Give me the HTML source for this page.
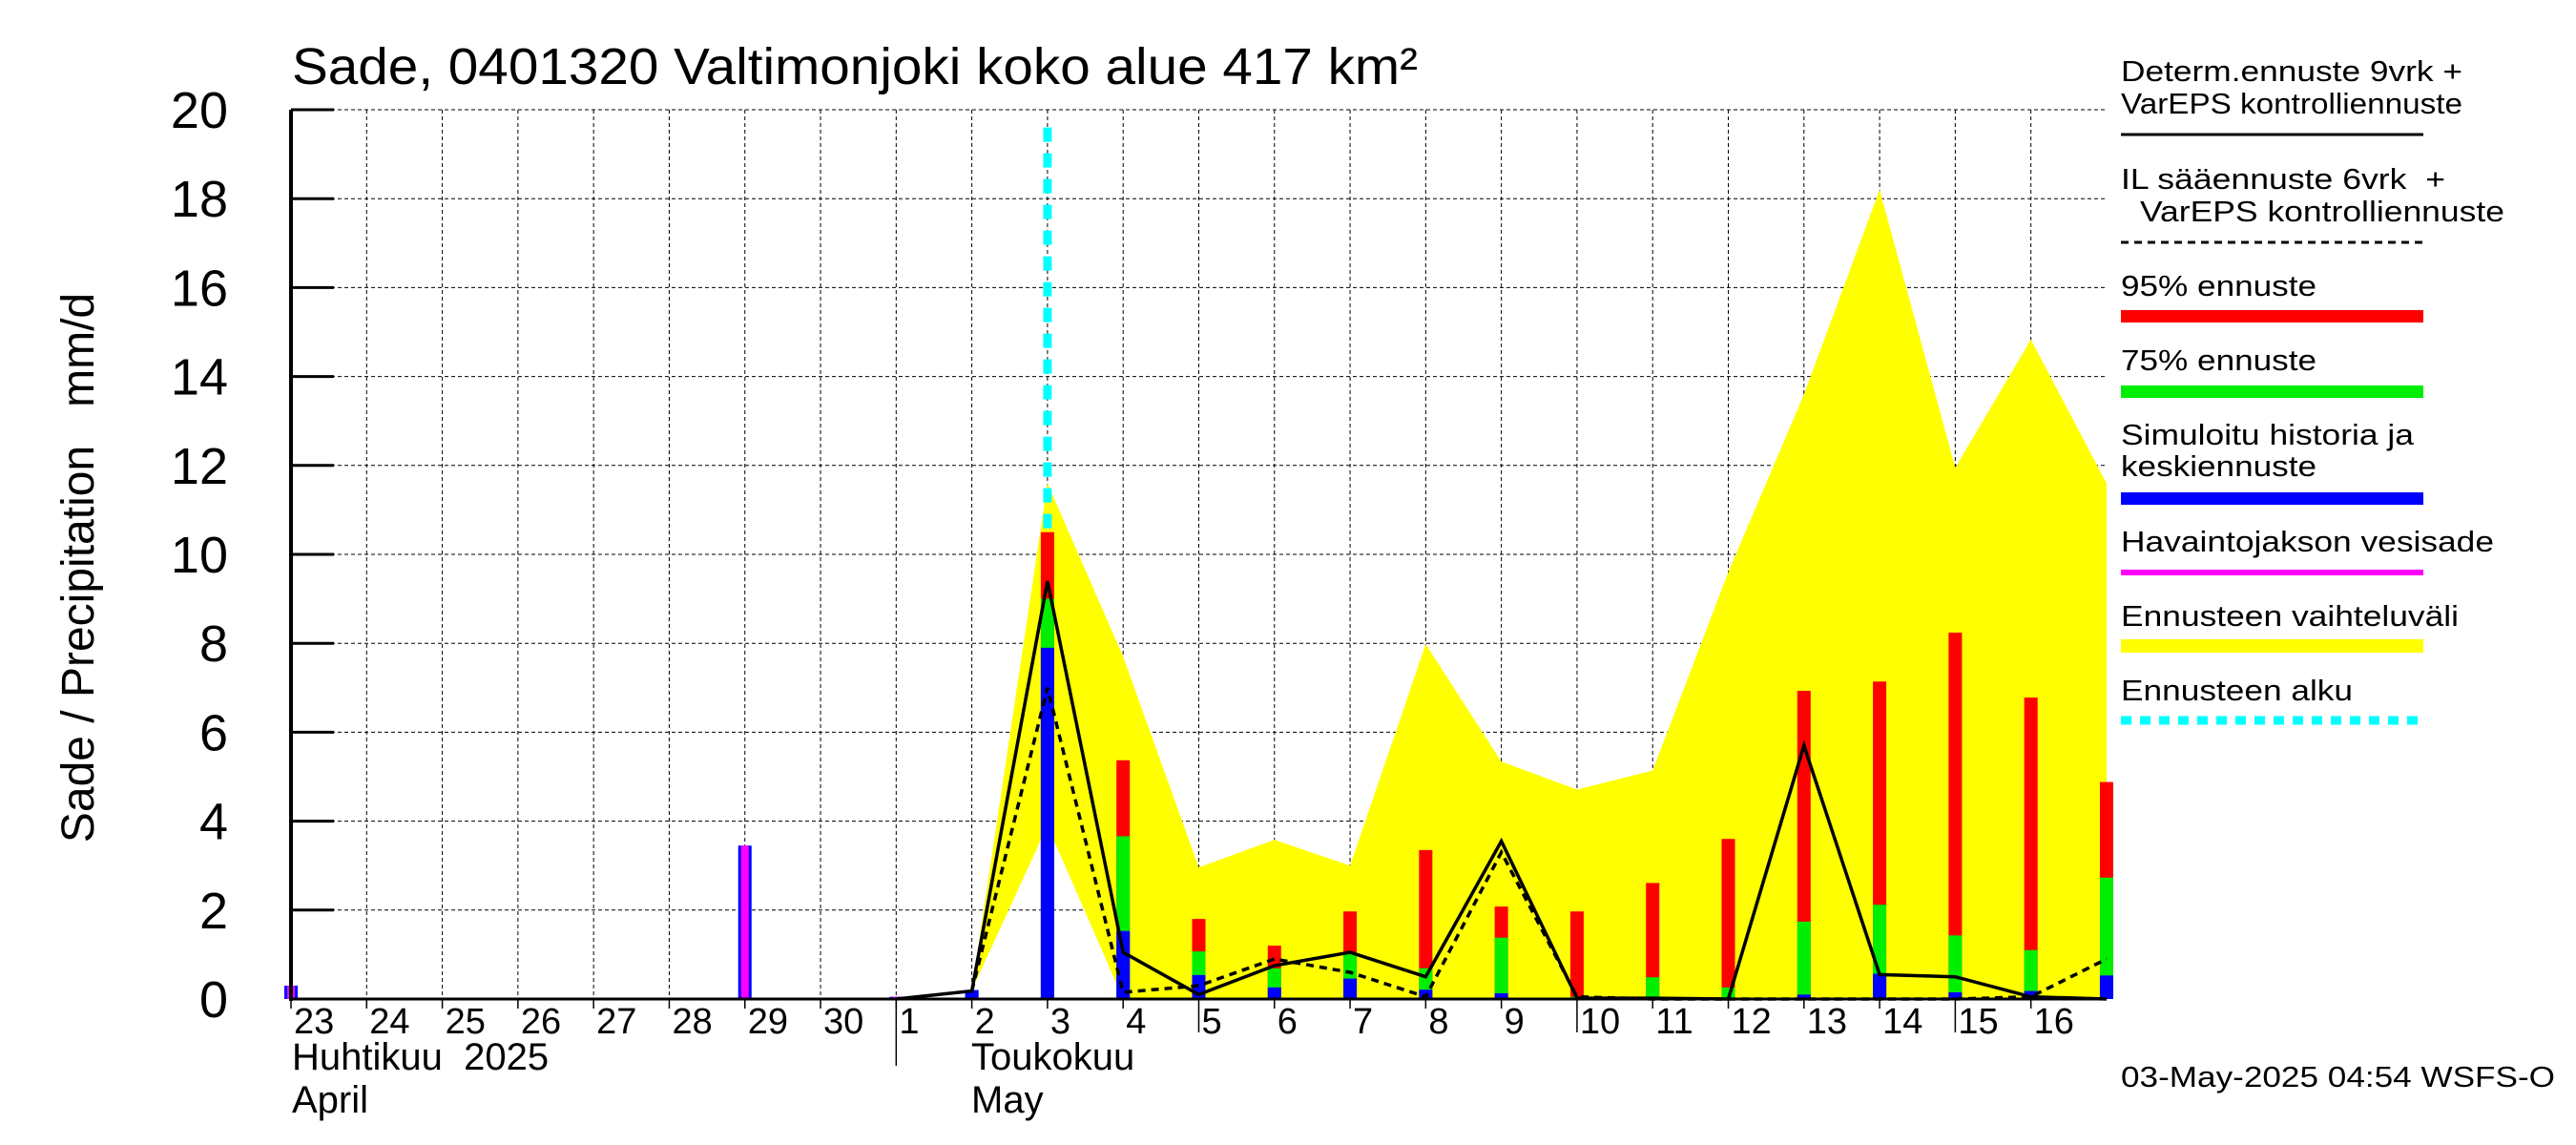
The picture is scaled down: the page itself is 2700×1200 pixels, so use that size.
<!DOCTYPE html>
<html><head><meta charset="utf-8">
<style>
html,body{margin:0;padding:0;background:#fff;}
svg{display:block;font-family:"Liberation Sans",sans-serif;}
</style></head>
<body>
<svg id="chart" width="2700" height="1200" viewBox="0 0 2700 1200" xmlns="http://www.w3.org/2000/svg">
<rect width="2700" height="1200" fill="#fff"/>
<text x="306" y="88" font-size="54" textLength="1180" lengthAdjust="spacingAndGlyphs">Sade, 0401320 Valtimonjoki koko alue 417 km²</text>
<text transform="translate(98,595) rotate(-90)" text-anchor="middle" font-size="48" style="white-space:pre">Sade / Precipitation   mm/d</text>
<g id="grid"></g>
<g id="band"></g>
<g id="cyan"></g>
<g id="bars"></g>
<g id="lines"></g>
<g id="axes"></g>
<g id="legend">
<text x="2223" y="85" font-size="31" textLength="358" lengthAdjust="spacingAndGlyphs">Determ.ennuste 9vrk +</text>
<text x="2223" y="119" font-size="31" textLength="358" lengthAdjust="spacingAndGlyphs">VarEPS kontrolliennuste</text>
<line x1="2223" y1="141" x2="2540" y2="141" stroke="#000" stroke-width="3"/>
<text x="2223" y="198" font-size="31" textLength="340" lengthAdjust="spacingAndGlyphs" style="white-space:pre">IL sääennuste 6vrk  +</text>
<text x="2243" y="232" font-size="31" textLength="382" lengthAdjust="spacingAndGlyphs">VarEPS kontrolliennuste</text>
<line x1="2223" y1="254" x2="2540" y2="254" stroke="#000" stroke-width="3" stroke-dasharray="8,6"/>
<text x="2223" y="310" font-size="31" textLength="205" lengthAdjust="spacingAndGlyphs">95% ennuste</text>
<rect x="2223" y="325" width="317" height="13" fill="#ff0000"/>
<text x="2223" y="388" font-size="31" textLength="205" lengthAdjust="spacingAndGlyphs">75% ennuste</text>
<rect x="2223" y="404" width="317" height="13" fill="#00ee00"/>
<text x="2223" y="466" font-size="31" textLength="307" lengthAdjust="spacingAndGlyphs">Simuloitu historia ja</text>
<text x="2223" y="499" font-size="31" textLength="205" lengthAdjust="spacingAndGlyphs">keskiennuste</text>
<rect x="2223" y="516" width="317" height="13" fill="#0000ff"/>
<text x="2223" y="578" font-size="31" textLength="391" lengthAdjust="spacingAndGlyphs">Havaintojakson vesisade</text>
<rect x="2223" y="597" width="317" height="6" fill="#ff00ff"/>
<text x="2223" y="656" font-size="31" textLength="354" lengthAdjust="spacingAndGlyphs">Ennusteen vaihteluväli</text>
<rect x="2223" y="670" width="317" height="14" fill="#ffff00"/>
<text x="2223" y="734" font-size="31" textLength="243" lengthAdjust="spacingAndGlyphs">Ennusteen alku</text>
<line x1="2223" y1="755" x2="2540" y2="755" stroke="#00ffff" stroke-width="9" stroke-dasharray="11,9"/>
</g>
<text x="2223" y="1139" font-size="31" textLength="455" lengthAdjust="spacingAndGlyphs">03-May-2025 04:54 WSFS-O</text>
</svg>
<script>
// day index 0 = 23 Apr
const dayLabels = ["23","24","25","26","27","28","29","30","1","2","3","4","5","6","7","8","9","10","11","12","13","14","15","16"];
const yTicks = [0,2,4,6,8,10,12,14,16,18,20];
const obsDays = [0,1,5,6,8];
const obsValues = [0.3,0.03,0.03,3.45,0.05];
const fcDays = [9,10,11,12,13,14,15,16,17,18,19,20,21,22,23,24];
const blueValues = [0.2,7.9,1.53,0.54,0.26,0.46,0.21,0.13,0.03,0.02,0.02,0.1,0.57,0.15,0.18,0.53];
const greenValues = [0.2,9.0,3.66,1.07,0.69,1.05,0.69,1.38,0.05,0.49,0.26,1.74,2.12,1.43,1.1,2.73];
const redValues = [0.2,10.5,5.37,1.8,1.2,1.97,3.35,2.08,1.97,2.61,3.6,6.93,7.14,8.24,6.78,4.88];
const bandDays = [9,10,11,12,13,14,15,16,17,18,19,20,21,22,23,24];
const bandUpper = [0.2,11.6,7.7,2.96,3.58,3.0,7.98,5.34,4.71,5.14,9.6,13.6,18.2,11.95,14.83,11.6];
const bandLower = [0.2,3.9,0,0,0,0,0,0,0,0,0,0,0,0,0,0];
const solidDays = [8,9,10,11,12,13,14,15,16,17,18,19,20,21,22,23,24];
const solidValues = [0,0.18,9.4,1.05,0.1,0.75,1.05,0.5,3.55,0.02,0.02,0,5.7,0.55,0.5,0.05,0];
const dashDays = [9,10,11,12,13,14,15,16,17,18,19,20,21,22,23,24];
const dashValues = [0.18,7.0,0.15,0.3,0.9,0.6,0.05,3.3,0.05,0,0,0,0,0,0.05,0.9];
const forecastStartDay = 10;

const NS = "http://www.w3.org/2000/svg";
const X0 = 305, DX = 79.29, Y0 = 1047, DY = 46.6, XR = 2206;
function xs(d){ return X0 + d*DX; }
function ys(v){ return Y0 - v*DY; }
function mk(tag, attrs, parent){
  const e = document.createElementNS(NS, tag);
  for (const k in attrs) e.setAttribute(k, attrs[k]);
  parent.appendChild(e); return e;
}
const grid = document.getElementById('grid');
const axes = document.getElementById('axes');
yTicks.forEach(v=>{
  const l = mk('line',{x1:X0,x2:XR,y1:ys(v),y2:ys(v),stroke:'#000','stroke-width':1,'stroke-dasharray':'4,3'},grid);
  
  
  mk('line',{x1:X0,x2:X0+45,y1:ys(v),y2:ys(v),stroke:'#000','stroke-width':3},axes);
  const t = mk('text',{x:239,y:ys(v)+19,'font-size':54,'text-anchor':'end'},axes);
  t.textContent = v;
  
  
});
dayLabels.forEach((lab,i)=>{
  const x = xs(i);
  if(i>0){
    const l = mk('line',{x1:x,x2:x,y1:ys(20),y2:Y0,stroke:'#000','stroke-width':1,'stroke-dasharray':'4,3'},grid);
    
    
  }
  const long = (lab==="5"||lab==="10"||lab==="15");
  mk('line',{x1:x,x2:x,y1:Y0,y2:Y0+(long?35:10),stroke:'#000','stroke-width':1.5},axes);
  const t = mk('text',{x:x+3,y:1083,'font-size':38},axes);
  t.textContent = lab;
  
  
});
const band = document.getElementById('band');
let pts = bandDays.map((d,i)=>xs(d)+','+ys(bandUpper[i]));
for(let i=bandDays.length-1;i>=0;i--) pts.push(xs(bandDays[i])+','+ys(bandLower[i]));
const poly = mk('polygon',{points:pts.join(' '),fill:'#ffff00'},band);


const cy = mk('line',{x1:xs(forecastStartDay),x2:xs(forecastStartDay),y1:ys(19.6),y2:Y0,stroke:'#00ffff','stroke-width':9,'stroke-dasharray':'15,12'},document.getElementById('cyan'));


const bars = document.getElementById('bars');
const BW = 14;
obsDays.forEach((d,i)=>{
  const x = xs(d), h = obsValues[i]*DY;
  const b = mk('rect',{x:x-BW/2,y:Y0-h,width:BW,height:h,fill:'#0000ff'},bars);
  
  
  mk('rect',{x:x-BW/2+3,y:Y0-h,width:BW-6,height:h,fill:'#ff00ff'},bars);
});
fcDays.forEach((d,i)=>{
  const x = xs(d)-BW/2;
  const r = mk('rect',{x:x,y:ys(redValues[i]),width:BW,height:redValues[i]*DY,fill:'#ff0000'},bars);
  
  
  const g = mk('rect',{x:x,y:ys(greenValues[i]),width:BW,height:greenValues[i]*DY,fill:'#00ee00'},bars);
  
  
  const bl = mk('rect',{x:x,y:ys(blueValues[i]),width:BW,height:blueValues[i]*DY,fill:'#0000ff'},bars);
  
  
});
const lines = document.getElementById('lines');
const sl = mk('polyline',{points:solidDays.map((d,i)=>xs(d)+','+ys(solidValues[i])).join(' '),fill:'none',stroke:'#000','stroke-width':3.5},lines);


const dl = mk('polyline',{points:dashDays.map((d,i)=>xs(d)+','+ys(dashValues[i])).join(' '),fill:'none',stroke:'#000','stroke-width':3.5,'stroke-dasharray':'8,6'},lines);


mk('line',{x1:X0,x2:X0,y1:ys(20),y2:Y0+2,stroke:'#000','stroke-width':4},axes);
mk('line',{x1:X0-2,x2:XR,y1:Y0,y2:Y0,stroke:'#000','stroke-width':3},axes);
mk('line',{x1:xs(8),x2:xs(8),y1:Y0,y2:1117,stroke:'#000','stroke-width':1.5},axes);
[["Huhtikuu  2025",306,1121,'month-label-fi'],["April",306,1166,'month-label-en'],["Toukokuu",1018,1121,'month-label-fi'],["May",1018,1166,'month-label-en']].forEach(a=>{
  const t = mk('text',{x:a[1],y:a[2],'font-size':40,style:'white-space:pre'},axes);
  t.textContent = a[0];
  
  
});
</script>
</body></html>
